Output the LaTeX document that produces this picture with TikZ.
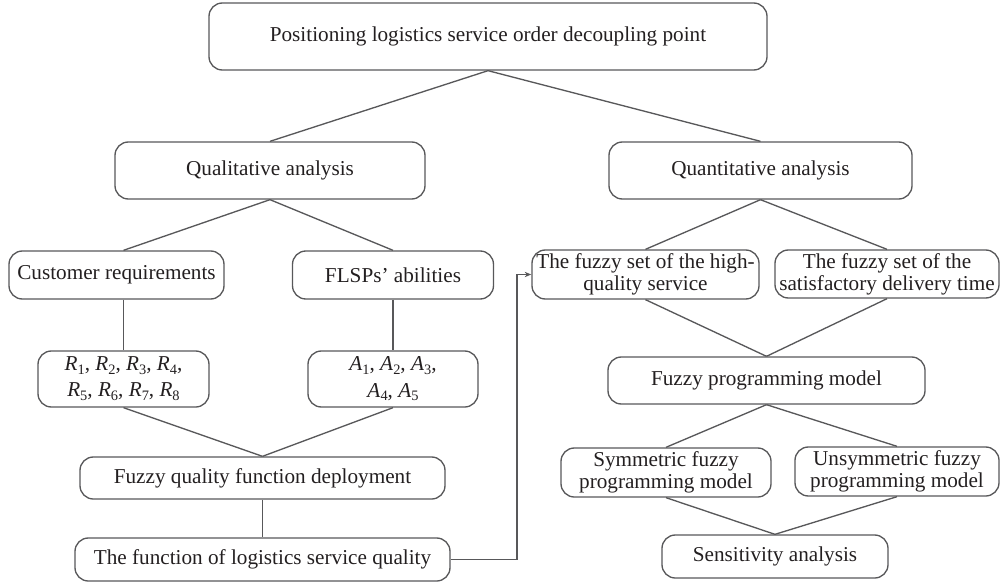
\documentclass[tikz,border=0pt]{standalone}
\usepackage{fontspec}
\setmainfont{Liberation Serif}
\usetikzlibrary{arrows.meta}
\definecolor{box-gray}{RGB}{88, 88, 90}
\definecolor{text-dark}{RGB}{35, 31, 32}
\newcommand{\sx}[2]{\textit{#1}\raisebox{-0.4ex}{\fontsize{10.8}{12}\selectfont #2}}

\begin{document}
\begin{tikzpicture}[x=0.75pt, y=-0.75pt,
        box/.style 2 args={draw=box-gray, line width=1pt, rounded corners=10pt, align=center, inner sep=0pt,
            text=text-dark, minimum width=#1*0.75pt, minimum height=#2*0.75pt, font=\fontsize{15.9}{16.6}\selectfont},
        link/.style={draw=box-gray, line width=1pt}]
            \useasboundingbox (0, 0) rectangle (1001, 582);
            % left branch
            \node[box={558}{67}] (goal) at (488, 36.5) {Positioning logistics service order decoupling point};
            \node[box={310}{57}] (qual) at (270, 170.5) {Qualitative analysis};
            \node[box={215}{48}] (cust) at (116.5, 275) {Customer requirements};
            \node[box={201}{48}] (flsp) at (393, 275) {FLSPs' abilities};
            \node[box={171}{56}] (rbox) at (123.5, 379) {\sx{R}{1}, \sx{R}{2}, \sx{R}{3}, \sx{R}{4},\\[3pt] \sx{R}{5}, \sx{R}{6}, \sx{R}{7}, \sx{R}{8}};
            \node[box={170}{56}] (abox) at (393, 379) {\sx{A}{1}, \sx{A}{2}, \sx{A}{3},\\[3pt] \sx{A}{4}, \sx{A}{5}};
            \node[box={365}{42}] (fqfd) at (262.5, 478) {Fuzzy quality function deployment};
            \node[box={375}{43}] (func) at (262.5, 559.5) {The function of logistics service quality};
            % right branch
            \node[box={303}{57}] (quant) at (760.5, 170.5) {Quantitative analysis};
            \node[box={227}{49}] (high) at (645.5, 274.5) {The fuzzy set of the high-\\quality service};
            \node[box={224}{48}] (sat) at (887, 274) {The fuzzy set of the\\satisfactory delivery time};
            \node[box={317}{47}] (fpm) at (766.5, 380.5) {Fuzzy programming model};
            \node[box={210}{49}] (sym) at (666, 472.5) {Symmetric fuzzy\\programming model};
            \node[box={204}{49}] (unsym) at (897, 471.5) {Unsymmetric fuzzy\\programming model};
            \node[box={226}{43}] (sens) at (775, 556.5) {Sensitivity analysis};
            \coordinate (turn) at (517, 559.5);
            % connectors
            \draw[link] (goal.south) -- (qual.north);
            \draw[link] (goal.south) -- (quant.north);
            \draw[link] (qual.south) -- (cust.north -| rbox.north);
            \draw[link] (qual.south) -- (flsp.north);
            \draw[link] (cust.south -| rbox.north) -- (rbox.north);
            \draw[link] (flsp.south) -- (abox.north);
            \draw[link] (rbox.south) -- (fqfd.north);
            \draw[link] (abox.south) -- (fqfd.north);
            \draw[link] (fqfd.south) -- (func.north);
            \draw[link, -{Stealth[length=5pt, width=4pt]}] (func.east) -- (turn) |- (high.west);
            \draw[link] (quant.south) -- (high.north);
            \draw[link] (quant.south) -- (sat.north);
            \draw[link] (high.south) -- (fpm.north);
            \draw[link] (sat.south) -- (fpm.north);
            \draw[link] (fpm.south) -- (sym.north);
            \draw[link] (fpm.south) -- (unsym.north);
            \draw[link] (sym.south) -- (sens.north);
            \draw[link] (unsym.south) -- (sens.north);
        \end{tikzpicture}
\end{document}
